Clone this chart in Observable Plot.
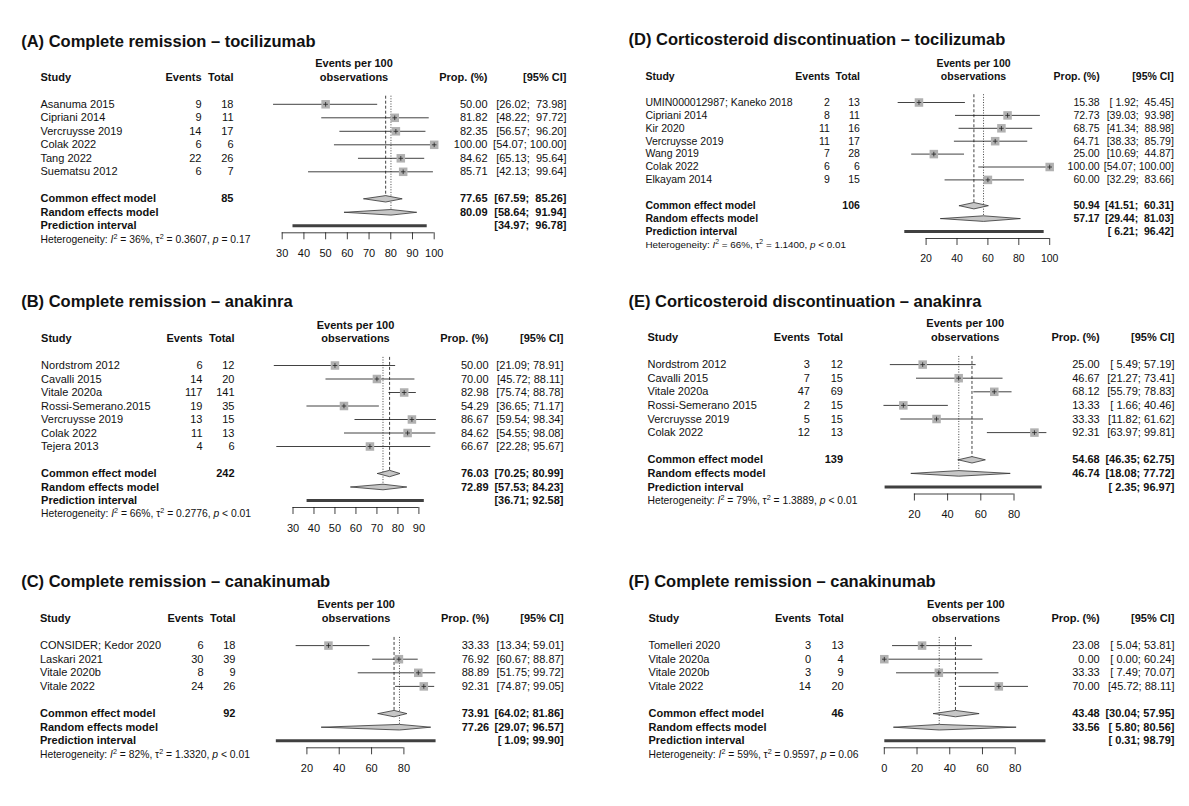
<!DOCTYPE html>
<html>
<head>
<meta charset="utf-8">
<script src="https://cdn.jsdelivr.net/npm/d3@7"></script>
<script src="https://cdn.jsdelivr.net/npm/@observablehq/plot@0.6"></script>
<style>
  html, body { margin: 0; padding: 0; background: #fff; }
  #wrap { position: relative; width: 1189px; height: 806px; overflow: hidden; background: #fff; }
  #wrap svg { position: absolute; }
</style>
</head>
<body>
<div id="wrap"></div>
<script>
// ---------------- DATA ----------------
const panelTitles = [
  "(A) Complete remission – tocilizumab",
  "(B) Complete remission – anakinra",
  "(C) Complete remission – canakinumab",
  "(D) Corticosteroid discontinuation – tocilizumab",
  "(E) Corticosteroid discontinuation – anakinra",
  "(F) Complete remission – canakinumab"
];

const studiesA = ["Asanuma 2015", "Cipriani 2014", "Vercruysse 2019", "Colak 2022", "Tang 2022", "Suematsu 2012"];
const eventsA = [9, 9, 14, 6, 22, 6];
const totalsA = [18, 11, 17, 6, 26, 7];
const propA = [50.00, 81.82, 82.35, 100.00, 84.62, 85.71];
const lowerA = [26.02, 48.22, 56.57, 54.07, 65.13, 42.13];
const upperA = [73.98, 97.72, 96.20, 100.00, 95.64, 99.64];
const ticksA = [30, 40, 50, 60, 70, 80, 90, 100];

const studiesB = ["Nordstrom 2012", "Cavalli 2015", "Vitale 2020a", "Rossi-Semerano.2015", "Vercruysse 2019", "Colak 2022", "Tejera 2013"];
const eventsB = [6, 14, 117, 19, 13, 11, 4];
const totalsB = [12, 20, 141, 35, 15, 13, 6];
const propB = [50.00, 70.00, 82.98, 54.29, 86.67, 84.62, 66.67];
const lowerB = [21.09, 45.72, 75.74, 36.65, 59.54, 54.55, 22.28];
const upperB = [78.91, 88.11, 88.78, 71.17, 98.34, 98.08, 95.67];
const ticksB = [30, 40, 50, 60, 70, 80, 90];

const studiesC = ["CONSIDER; Kedor 2020", "Laskari 2021", "Vitale 2020b", "Vitale 2022"];
const eventsC = [6, 30, 8, 24];
const totalsC = [18, 39, 9, 26];
const propC = [33.33, 76.92, 88.89, 92.31];
const lowerC = [13.34, 60.67, 51.75, 74.87];
const upperC = [59.01, 88.87, 99.72, 99.05];
const ticksC = [20, 40, 60, 80];

const studiesD = ["UMIN000012987; Kaneko 2018", "Cipriani 2014", "Kir 2020", "Vercruysse 2019", "Wang 2019", "Colak 2022", "Elkayam 2014"];
const eventsD = [2, 8, 11, 11, 7, 6, 9];
const totalsD = [13, 11, 16, 17, 28, 6, 15];
const propD = [15.38, 72.73, 68.75, 64.71, 25.00, 100.00, 60.00];
const lowerD = [1.92, 39.03, 41.34, 38.33, 10.69, 54.07, 32.29];
const upperD = [45.45, 93.98, 88.98, 85.79, 44.87, 100.00, 83.66];
const ticksD = [20, 40, 60, 80, 100];

const studiesE = ["Nordstrom 2012", "Cavalli 2015", "Vitale 2020a", "Rossi-Semerano 2015", "Vercruysse 2019", "Colak 2022"];
const eventsE = [3, 7, 47, 2, 5, 12];
const totalsE = [12, 15, 69, 15, 15, 13];
const propE = [25.00, 46.67, 68.12, 13.33, 33.33, 92.31];
const lowerE = [5.49, 21.27, 55.79, 1.66, 11.82, 63.97];
const upperE = [57.19, 73.41, 78.83, 40.46, 61.62, 99.81];
const ticksE = [20, 40, 60, 80];

const studiesF = ["Tomelleri 2020", "Vitale 2020a", "Vitale 2020b", "Vitale 2022"];
const eventsF = [3, 0, 3, 14];
const totalsF = [13, 4, 9, 20];
const propF = [23.08, 0.00, 33.33, 70.00];
const lowerF = [5.04, 0.00, 7.49, 45.72];
const upperF = [53.81, 60.24, 70.07, 88.11];
const ticksF = [0, 20, 40, 60, 80];

// pooled results, one entry per panel A..F
const pooledTotals = [85, 242, 92, 106, 139, 46];
const commonProp  = [77.65, 76.03, 73.91, 50.94, 54.68, 43.48];
const commonLower = [67.59, 70.25, 64.02, 41.51, 46.35, 30.04];
const commonUpper = [85.26, 80.99, 81.86, 60.31, 62.75, 57.95];
const randomProp  = [80.09, 72.89, 77.26, 57.17, 46.74, 33.56];
const randomLower = [58.64, 57.53, 29.07, 29.44, 18.08, 5.80];
const randomUpper = [91.94, 84.23, 96.57, 81.03, 77.72, 80.56];
const predLower = [34.97, 36.71, 1.09, 6.21, 2.35, 0.31];
const predUpper = [96.78, 92.58, 99.90, 96.42, 96.97, 98.79];
const hetI2   = ["36", "66", "82", "66", "79", "59"];
const hetTau2 = ["0.3607", "0.2776", "1.3320", "1.1400", "1.3889", "0.9597"];
const hetP    = ["= 0.17", "< 0.01", "< 0.01", "< 0.01", "< 0.01", "= 0.06"];

// ---------------- LAYOUT (pixels, per panel) ----------------
const layouts = [
  {left: 0,   top: 0,   w: 596, h: 270, L0: 63.3, lh: 13.5, fs: 11,   titleY: 41.7, xr: [281.7, 433.7], title: 20.7, study: 40,   events: 201,   total: 233,   hdr: 353.5, prop: 487,   ci: 566},
  {left: 0,   top: 270, w: 596, h: 270, L0: 54.5, lh: 13.5, fs: 11,   titleY: 31.7, xr: [292.5, 418.4], title: 20.7, study: 40.6, events: 202,   total: 234,   hdr: 355,   prop: 488,   ci: 563},
  {left: 0,   top: 540, w: 596, h: 266, L0: 64.3, lh: 13.6, fs: 11,   titleY: 41.7, xr: [306.4, 403.4], title: 20.7, study: 39.5, events: 203,   total: 235,   hdr: 355.6, prop: 488.7, ci: 563.2},
  {left: 600, top: 0,   w: 589, h: 270, L0: 63.3, lh: 12.9, fs: 10.5, titleY: 39.5, xr: [325.6, 449.2], title: 28,   study: 45,   events: 229.3, total: 259.4, hdr: 373,   prop: 499.2, ci: 573.3},
  {left: 600, top: 270, w: 589, h: 270, L0: 53.3, lh: 13.6, fs: 11,   titleY: 31.7, xr: [313.9, 413.5], title: 28,   study: 47,   events: 209.4, total: 242.5, hdr: 364.7, prop: 499.2, ci: 574},
  {left: 600, top: 540, w: 589, h: 266, L0: 64.3, lh: 13.6, fs: 11,   titleY: 41.7, xr: [283.8, 414.7], title: 28,   study: 48,   events: 210.5, total: 243.2, hdr: 365.4, prop: 499.2, ci: 574}
];

const panelData = [
  {studies: studiesA, events: eventsA, totals: totalsA, prop: propA, lower: lowerA, upper: upperA, ticks: ticksA},
  {studies: studiesB, events: eventsB, totals: totalsB, prop: propB, lower: lowerB, upper: upperB, ticks: ticksB},
  {studies: studiesC, events: eventsC, totals: totalsC, prop: propC, lower: lowerC, upper: upperC, ticks: ticksC},
  {studies: studiesD, events: eventsD, totals: totalsD, prop: propD, lower: lowerD, upper: upperD, ticks: ticksD},
  {studies: studiesE, events: eventsE, totals: totalsE, prop: propE, lower: lowerE, upper: upperE, ticks: ticksE},
  {studies: studiesF, events: eventsF, totals: totalsF, prop: propF, lower: lowerF, upper: upperF, ticks: ticksF}
];

const INK = "#111";
const FONT = "'Liberation Sans', Arial, Helvetica, sans-serif";

function drawPanel(k) {
  const L = layouts[k], d = panelData[k];
  const n = d.studies.length;
  const px = v => v / L.lh;               // pixel offset -> line units
  const f2 = v => v.toFixed(2);
  const rows = d.studies.map((s, i) => ({
    study: s, events: d.events[i], total: d.totals[i],
    p: d.prop[i], lo: d.lower[i], hi: d.upper[i], y: 3 + i
  }));
  const yC = 4 + n, yR = 5 + n, yP = 6 + n, yH = 7 + n;
  const yAxis = yP + px(7), yTick = yAxis + px(7), yLab = yAxis + px(20.5);
  const yTop = 2.4;

  const los = [...d.lower, commonLower[k], randomLower[k], predLower[k]].map(f2);
  const his = [...d.upper, commonUpper[k], randomUpper[k], predUpper[k]].map(f2);
  const lw = d3.max(los, s => s.length), hw = d3.max(his, s => s.length);
  const pad = (s, w) => "\u00a0".repeat(w - s.length) + s;
  const ci = (lo, hi) => `[${pad(f2(lo), lw)};\u00a0${pad(f2(hi), hw)}]`;

  const summary = [
    {label: "Common effect model", y: yC, total: String(pooledTotals[k]), p: f2(commonProp[k]), ci: ci(commonLower[k], commonUpper[k])},
    {label: "Random effects model", y: yR, total: "", p: f2(randomProp[k]), ci: ci(randomLower[k], randomUpper[k])},
    {label: "Prediction interval", y: yP, total: "", p: "", ci: ci(predLower[k], predUpper[k])}
  ];
  const diamonds = [
    {lo: commonLower[k], est: commonProp[k], hi: commonUpper[k], y: yC, h: px(3.2)},
    {lo: randomLower[k], est: randomProp[k], hi: randomUpper[k], y: yR, h: px(2.8)}
  ];
  const diamondPts = diamonds.flatMap((m, j) => [
    {g: j, x: m.lo, y: m.y}, {g: j, x: m.est, y: m.y - m.h},
    {g: j, x: m.hi, y: m.y}, {g: j, x: m.est, y: m.y + m.h}, {g: j, x: m.lo, y: m.y}
  ]);
  const headers = [{t: "Events per 100", y: 0}, {t: "observations", y: 1}];
  const hetText = `Heterogeneity: I2 = ${hetI2[k]}%, t2 = ${hetTau2[k]}, p ${hetP[k]}`;

  const T = (data, o) => Plot.text(data, {frameAnchor: "left", fontSize: L.fs, fill: INK, ...o});
  const ticks = d.ticks;

  const svg = Plot.plot({
    width: L.w, height: L.h, margin: 0,
    x: {domain: [ticks[0], ticks[ticks.length - 1]], range: L.xr, axis: null},
    y: {domain: [0, 1], range: [L.L0, L.L0 + L.lh], axis: null},
    style: {fontFamily: FONT, fontSize: "11px", background: "transparent", overflow: "visible", color: INK},
    marks: [
      // title
      T([panelTitles[k]], {y: () => (L.titleY - L.L0) / L.lh, dx: L.title, textAnchor: "start", fontSize: 16.5, fontWeight: "bold"}),
      // headers
      T(["Study"], {y: () => 1, dx: L.study, textAnchor: "start", fontWeight: "bold"}),
      T(["Events"], {y: () => 1, dx: L.events, textAnchor: "end", fontWeight: "bold"}),
      T(["Total"], {y: () => 1, dx: L.total, textAnchor: "end", fontWeight: "bold"}),
      T(headers, {y: "y", text: "t", dx: L.hdr, textAnchor: "middle", fontWeight: "bold"}),
      T(["Prop. (%)"], {y: () => 1, dx: L.prop, textAnchor: "end", fontWeight: "bold"}),
      T(["[95% CI]"], {y: () => 1, dx: L.ci, textAnchor: "end", fontWeight: "bold"}),
      // study rows
      T(rows, {y: "y", text: "study", dx: L.study, textAnchor: "start"}),
      T(rows, {y: "y", text: "events", dx: L.events, textAnchor: "end"}),
      T(rows, {y: "y", text: "total", dx: L.total, textAnchor: "end"}),
      T(rows, {y: "y", text: r => f2(r.p), dx: L.prop, textAnchor: "end"}),
      T(rows, {y: "y", text: r => ci(r.lo, r.hi), dx: L.ci, textAnchor: "end"}),
      // summary rows
      T(summary, {y: "y", text: "label", dx: L.study, textAnchor: "start", fontWeight: "bold"}),
      T(summary, {y: "y", text: "total", dx: L.total, textAnchor: "end", fontWeight: "bold"}),
      T(summary, {y: "y", text: "p", dx: L.prop, textAnchor: "end", fontWeight: "bold"}),
      T(summary, {y: "y", text: "ci", dx: L.ci, textAnchor: "end", fontWeight: "bold"}),
      // heterogeneity
      T([hetText], {y: () => yH, dx: L.study, textAnchor: "start", fontSize: L.fs * 0.94}),
      // reference lines: common (dashed) and random (dotted)
      Plot.ruleX([commonProp[k]], {y1: yTop, y2: yC, stroke: INK, strokeWidth: 0.8, strokeDasharray: "3,2"}),
      Plot.ruleX([randomProp[k]], {y1: yTop, y2: yR, stroke: INK, strokeWidth: 0.8, strokeDasharray: "1,1.6"}),
      // study CIs, squares, centre marks
      Plot.ruleY(rows, {y: "y", x1: "lo", x2: "hi", stroke: INK, strokeWidth: 0.8}),
      Plot.dot(rows, {x: "p", y: "y", symbol: "square", r: 4.8, fill: "#b1b1b1", stroke: "none"}),
      Plot.dot(rows, {x: "p", y: "y", symbol: "plus", r: 1.6, stroke: "#222", strokeWidth: 0.8}),
      // diamonds
      Plot.line(diamondPts, {x: "x", y: "y", z: "g", fill: "#c6c6c6", stroke: "#333", strokeWidth: 0.8, curve: "linear"}),
      // prediction interval
      Plot.ruleY([yP], {x1: () => predLower[k], x2: () => predUpper[k], stroke: "#404040", strokeWidth: 3}),
      // x axis
      Plot.ruleY([yAxis], {x1: () => ticks[0], x2: () => ticks[ticks.length - 1], stroke: INK, strokeWidth: 0.8}),
      Plot.ruleX(ticks, {x: t => t, y1: () => yAxis, y2: () => yTick, stroke: INK, strokeWidth: 0.8}),
      Plot.text(ticks, {x: t => t, y: () => yLab, text: t => String(t), fontSize: L.fs, fill: INK})
    ]
  });

  // rich text for the heterogeneity line
  d3.select(svg).selectAll("text")
    .filter(function () { return this.textContent.startsWith("Heterogeneity:"); })
    .each(function () {
      const t = d3.select(this);
      t.text(null);
      t.append("tspan").text("Heterogeneity: ");
      t.append("tspan").attr("font-style", "italic").text("I");
      t.append("tspan").attr("dy", -4).attr("font-size", "70%").text("2");
      t.append("tspan").attr("dy", 4).text(` = ${hetI2[k]}%, \u03c4`);
      t.append("tspan").attr("dy", -4).attr("font-size", "70%").text("2");
      t.append("tspan").attr("dy", 4).text(` = ${hetTau2[k]}, `);
      t.append("tspan").attr("font-style", "italic").text("p");
      t.append("tspan").text(` ${hetP[k]}`);
    });

  svg.style.left = L.left + "px";
  svg.style.top = L.top + "px";
  document.getElementById("wrap").appendChild(svg);
}

for (let k = 0; k < 6; k++) drawPanel(k);
</script>
</body>
</html>
